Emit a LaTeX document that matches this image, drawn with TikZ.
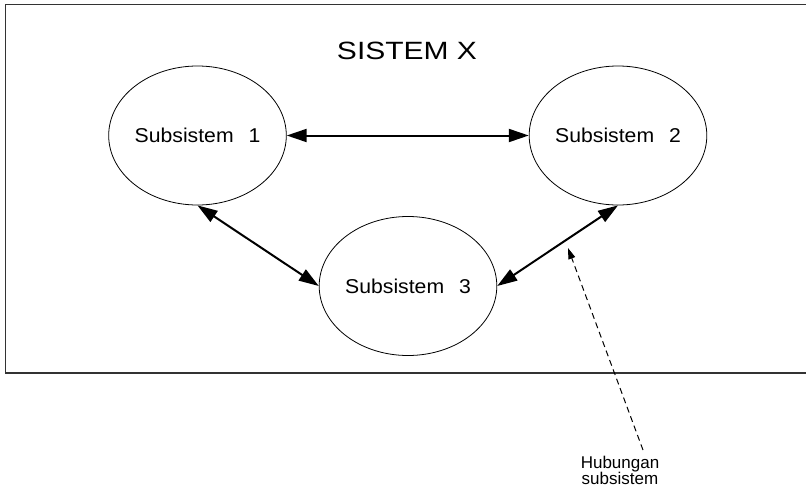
\documentclass[tikz,border=0pt]{standalone}
\usepackage{fontspec}
\setmainfont{Liberation Sans}
\usetikzlibrary{shapes.geometric,arrows.meta}
\newcommand{\sublabel}[1]{\scalebox{1.06}[1]{Subsistem\hspace{14pt}#1}}
\begin{document}
\begin{tikzpicture}[x=1pt,y=-1pt,
  sub/.style={draw=black,line width=0.8pt,ellipse,minimum width=175pt,minimum height=139pt,inner sep=0pt,font=\fontsize{20}{24}\selectfont},
  link/.style={line width=2pt,{Triangle[length=20pt,width=13pt]}-{Triangle[length=20pt,width=13pt]}},
  note/.style={line width=1pt,dash pattern=on 6pt off 4pt,-{Triangle[length=11pt,width=7pt]}},
  lbl/.style={align=center,inner sep=0pt,font=\fontsize{17}{17}\selectfont}]
\useasboundingbox (0,0) rectangle (806,490);
\draw[line width=1.3pt,draw=black!80] (5.5,4.5) -- (812,4.5) -- (812,373) -- (5.5,373) -- cycle;
\node[inner sep=0pt,font=\fontsize{25}{30}\selectfont] (title) at (407,51) {\scalebox{1.2}[1]{SISTEM X}};
\node[sub] (s1) at (197.5,135.5) {\sublabel{1}};
\node[sub] (s2) at (618,135.5) {\sublabel{2}};
\node[sub] (s3) at (408,286) {\sublabel{3}};
\draw[link] (s1.east) -- (s2.west);
\draw[link] (s1.south) -- (s3.west);
\draw[link] (s2.south) -- (s3.east);
\node[lbl] (h) at (620,470) {Hubungan\\[-1pt]subsistem};
\coordinate (hs) at (643,450);
\coordinate (ht) at (568,248);
\draw[note] (hs) -- (ht);
\end{tikzpicture}
\end{document}
